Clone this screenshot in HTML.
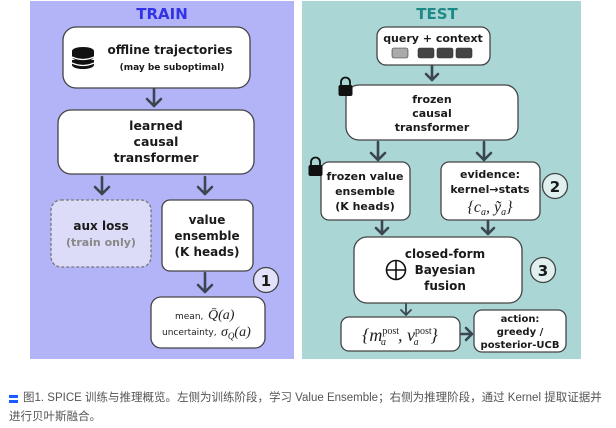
<!DOCTYPE html>
<html><head><meta charset="utf-8"><style>
body{margin:0;background:#fff;width:616px;height:428px;overflow:hidden}
svg{position:absolute;left:0;top:0}
.b{font-family:"DejaVu Sans","Liberation Sans",sans-serif;font-weight:bold;fill:#1a1a1a;text-anchor:middle}
.m{font-family:"Liberation Serif",serif;font-style:italic;fill:#222;text-anchor:middle}
.cap{position:absolute;left:9px;top:389px;font:11.5px/19px "Liberation Sans","Noto Sans CJK SC",sans-serif;color:#555;white-space:nowrap}
</style></head><body>
<svg width="616" height="428" viewBox="0 0 616 428">
<rect x="30" y="1" width="264" height="358" fill="#b3b3f8"/>
<rect x="302" y="1" width="279" height="358" fill="#aad6d5"/>
<text x="162" y="19" class="b" style="fill:#3333e6;font-size:15px">TRAIN</text>
<text x="437" y="19" class="b" style="fill:#1d8a88;font-size:15px">TEST</text>
<g stroke="#444" stroke-width="1.3" fill="#fff">
<rect x="63" y="27" width="187" height="61" rx="13"/>
<rect x="58" y="110" width="196" height="64" rx="13"/>
<rect x="51" y="200" width="100" height="67" rx="10" fill="#dcdcf8" stroke="#777" stroke-dasharray="3,2"/>
<rect x="162" y="200" width="91" height="71" rx="8"/>
<rect x="151" y="297" width="114" height="51" rx="10"/>
<circle cx="266" cy="280" r="12.5" fill="#e2e2fa"/>
<rect x="377" y="27" width="113" height="38" rx="9"/>
<rect x="346" y="85" width="172" height="55" rx="13"/>
<rect x="321" y="162" width="89" height="58" rx="8"/>
<rect x="441" y="162" width="99" height="58" rx="8"/>
<rect x="354" y="237" width="168" height="66" rx="13"/>
<rect x="341" y="317" width="119" height="34" rx="8"/>
<rect x="474" y="310" width="92" height="42" rx="8"/>
<circle cx="555" cy="186" r="12.5" fill="#dff0ef"/>
<circle cx="543" cy="270" r="12.5" fill="#dff0ef"/>
</g>
<g stroke="#3b4650" stroke-width="2.6" fill="none" stroke-linecap="round" stroke-linejoin="round">
<path d="M154 89V106M147 99L154 106L161 99"/>
<path d="M102 177V194M95 187L102 194L109 187"/>
<path d="M205 177V194M198 187L205 194L212 187"/>
<path d="M205 273V292M198 285L205 292L212 285"/>
<path d="M432 66V80M426 74L432 80L438 74"/>
<path d="M378 142V160M371 153L378 160L385 153"/>
<path d="M484 142V160M477 153L484 160L491 153"/>
<path d="M382 221V234M376 228L382 234L388 228"/>
<path d="M488 221V234M482 228L488 234L494 228"/>
<path d="M406 304V315M401 310L406 315L411 310" stroke-width="1.8"/>
<path d="M461 334H472M466 328L472 334L466 340"/>
</g>
<g fill="#111">
<ellipse cx="83" cy="51" rx="11" ry="4"/>
<rect x="72" y="51" width="22" height="6"/><ellipse cx="83" cy="57" rx="11" ry="4"/>
<rect x="72" y="60" width="22" height="5"/><ellipse cx="83" cy="65" rx="11" ry="4"/>
</g>
<g stroke="#fff" stroke-width="1.3" fill="none"><path d="M72 57q11 5 22 0M72 63q11 5 22 0"/></g>
<text x="170" y="54" class="b" font-size="12">offline trajectories</text>
<text x="172" y="70" class="b" font-size="9">(may be suboptimal)</text>
<text x="156" y="130" class="b" font-size="12.5">learned</text>
<text x="156" y="146" class="b" font-size="12.5">causal</text>
<text x="156" y="162" class="b" font-size="12.5">transformer</text>
<text x="101" y="230" class="b" font-size="12">aux loss</text>
<text x="101" y="246" class="b" font-size="11" style="fill:#888">(train only)</text>
<text x="207" y="224" class="b" font-size="12">value</text>
<text x="207" y="240" class="b" font-size="12">ensemble</text>
<text x="207" y="256" class="b" font-size="12">(K heads)</text>
<text x="266" y="286" class="b" font-size="15">1</text>
<text x="175" y="319" font-family="DejaVu Sans,sans-serif" font-size="9" fill="#222">mean,</text>
<text x="208" y="319" class="m" font-size="14" style="text-anchor:start" font-style="normal">Q̄<tspan font-style="italic">(a)</tspan></text>
<text x="162" y="335" font-family="DejaVu Sans,sans-serif" font-size="9" fill="#222">uncertainty,</text>
<text x="221" y="336" class="m" font-size="14" style="text-anchor:start">σ<tspan font-size="9" dy="3">Q</tspan><tspan dy="-3">(a)</tspan></text>
<text x="433" y="42" class="b" font-size="11">query + context</text>
<g fill="#444" stroke="#333" stroke-width=".6">
<rect x="392" y="48" width="16" height="10" rx="2" fill="#aaa"/>
<rect x="418" y="48" width="16" height="10" rx="2"/><rect x="437" y="48" width="16" height="10" rx="2"/><rect x="456" y="48" width="16" height="10" rx="2"/>
</g>
<text x="432" y="103" class="b" font-size="11">frozen</text>
<text x="432" y="117" class="b" font-size="11">causal</text>
<text x="432" y="131" class="b" font-size="11">transformer</text>
<text x="365" y="180" class="b" font-size="11">frozen value</text>
<text x="365" y="195" class="b" font-size="11">ensemble</text>
<text x="365" y="210" class="b" font-size="11">(K heads)</text>
<text x="490" y="178" class="b" font-size="11">evidence:</text>
<text x="490" y="193" class="b" font-size="11">kernel→stats</text>
<text x="490" y="212" class="m" font-size="16">{c<tspan font-size="10" dy="3">a</tspan><tspan dy="-3">, ỹ</tspan><tspan font-size="10" dy="3">a</tspan><tspan dy="-3">}</tspan></text>
<text x="555" y="192" class="b" font-size="15">2</text>
<text x="445" y="258" class="b" font-size="12">closed-form</text>
<text x="445" y="274" class="b" font-size="12">Bayesian</text>
<text x="445" y="290" class="b" font-size="12">fusion</text>
<g stroke="#111" stroke-width="1.6" fill="none"><circle cx="396" cy="270" r="9.5"/><path d="M386.5 270H405.5M396 260.5V279.5"/></g>
<text x="543" y="276" class="b" font-size="15">3</text>
<text x="400" y="341" class="m" font-size="18">{m<tspan font-size="10" dy="-7" font-style="normal">post</tspan><tspan font-size="10" dx="-18" dy="11">a</tspan><tspan dx="12" dy="-4">, v</tspan><tspan font-size="10" dy="-7" font-style="normal">post</tspan><tspan font-size="10" dx="-18" dy="11">a</tspan><tspan dx="12" dy="-4">}</tspan></text>
<text x="520" y="322" class="b" font-size="10">action:</text>
<text x="520" y="335" class="b" font-size="10">greedy /</text>
<text x="520" y="348" class="b" font-size="10">posterior-UCB</text>
<g>
<path d="M341 86v-4a4.5 4.5 0 0 1 9 0v4" stroke="#111" stroke-width="1.8" fill="none"/>
<rect x="338.5" y="85" width="14" height="11" rx="2" fill="#111"/>
<path d="M311 166v-4a4.5 4.5 0 0 1 9 0v4" stroke="#111" stroke-width="1.8" fill="none"/>
<rect x="308.5" y="165" width="14" height="11" rx="2" fill="#111"/>
</g>
<rect x="9" y="395" width="9" height="3" fill="#1a5cff"/><rect x="9" y="400" width="9" height="3" fill="#1a5cff"/>
</svg>
<div class="cap"><span style="padding-left:14px"></span>图1. SPICE 训练与推理概览。左侧为训练阶段，学习 Value Ensemble；右侧为推理阶段，通过 Kernel 提取证据并<br>进行贝叶斯融合。</div>
</body></html>
